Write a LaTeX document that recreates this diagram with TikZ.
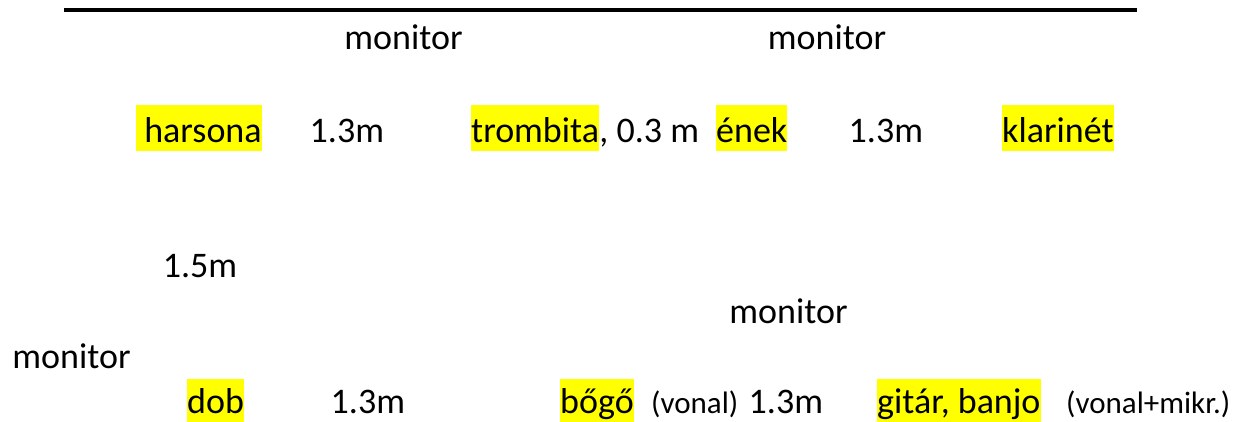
\documentclass[tikz,border=0pt]{standalone}
\usepackage{fontspec}
\setmainfont{Carlito}
\usetikzlibrary{positioning}
\definecolor{hlyellow}{RGB}{255,255,0}
\newcommand{\bigsize}{\fontsize{36}{43}\selectfont}
\newcommand{\smallsize}{\fontsize{31}{37}\selectfont}

\begin{document}
\begin{tikzpicture}[x=1pt,y=-1pt,
        lbl/.style={inner sep=0pt,anchor=base west,font=\bigsize},
        mon/.style={inner sep=0pt,anchor=base,font=\bigsize},
        instr/.style={lbl,fill=hlyellow,text height=37pt,text depth=9pt},
        instrlow/.style={lbl,fill=hlyellow,text height=34pt,text depth=12pt},
        note/.style={lbl,font=\smallsize}]
            \useasboundingbox (0,0) rectangle (1250,421);

            % Stage edge
            \coordinate (edgeW) at (64,10);
            \coordinate (edgeE) at (1137,10);
            \draw[line width=3.4pt] (edgeW) -- (edgeE);

            % Front monitors
            \node[mon] (monA) at (403.5,49) {monitor};
            \node[mon] (monB) at (827,49) {monitor};

            % Front line
            \node[instr] (harsona) at (136,142) {\ harsona};
            \node[lbl] (distA) at (309.5,142) {1.3m};
            \node[instr] (trombita) at (471,142) {trombita};
            \node[lbl] (distB) at (trombita.base east) {, 0.3 m};
            \node[instr] (enek) at (716,142) {ének};
            \node[lbl] (distC) at (848.5,142) {1.3m};
            \node[instr] (klarinet) at (1002,142) {klarinét};

            % Gap between the two lines
            \node[mon] (distD) at (200,277) {1.5m};

            % Back monitors
            \node[mon] (monC) at (788.5,323) {monitor};
            \node[mon] (monD) at (71.5,368) {monitor};

            % Back line
            \node[instrlow] (dob) at (187,413) {dob};
            \node[lbl] (distE) at (330.5,413) {1.3m};
            \node[instrlow] (bogo) at (560,413) {bőgő};
            \node[note] (vonalA) at (651,413) {(vonal)};
            \node[lbl] (distF) at (748.5,413) {1.3m};
            \node[instrlow] (gitar) at (877,413) {gitár, banjo\ };
            \node[note] (vonalB) at (1066,413) {(vonal+mikr.)};
        \end{tikzpicture}
\end{document}
